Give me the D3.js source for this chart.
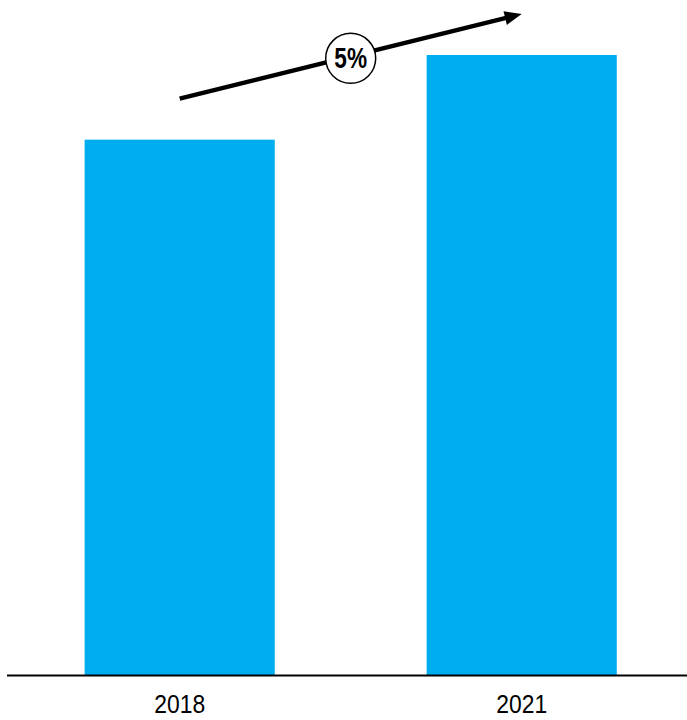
<!DOCTYPE html>
<html>
<head>
<meta charset="utf-8">
<script src="https://cdn.jsdelivr.net/npm/d3@7"></script>
<style>
  html, body { margin: 0; padding: 0; background: #fff; }
  svg { display: block; }
</style>
</head>
<body>
<div id="chart"></div>
<script>
const categories = ["2018", "2021"];
const values = [100, 115.8];
const growthLabel = "5%";

const W = 687, H = 720;
const baseY = 675.5, topY = 55;

const svg = d3.select("#chart").append("svg")
  .attr("width", W).attr("height", H);

const x = d3.scaleBand()
  .domain(categories)
  .range([8, 693.4])
  .paddingInner(0.444)
  .paddingOuter(0.224);

const y = d3.scaleLinear()
  .domain([0, d3.max(values)])
  .range([baseY, topY]);

svg.selectAll("rect.bar")
  .data(categories)
  .join("rect")
  .attr("class", "bar")
  .attr("x", d => x(d))
  .attr("y", (d, i) => y(values[i]))
  .attr("width", x.bandwidth())
  .attr("height", (d, i) => baseY - y(values[i]))
  .attr("fill", "#00AEEF");

// axis
const axis = svg.append("g")
  .attr("transform", `translate(0,${baseY})`)
  .call(d3.axisBottom(x).tickSize(0).tickPadding(0));
axis.select(".domain").remove();
axis.append("line")
  .attr("x1", 7).attr("x2", W)
  .attr("y1", 0).attr("y2", 0)
  .attr("stroke", "#000").attr("stroke-width", 2);
axis.selectAll(".tick text")
  .attr("y", null)
  .attr("dy", null)
  .attr("transform", "translate(0,37) scale(0.88,1)")
  .attr("fill", "#000")
  .style("font-family", "'Liberation Sans', Arial, sans-serif")
  .style("font-size", "26px");

// growth arrow
const offset = 41;
const cx0 = x(categories[0]) + x.bandwidth() / 2;
const cx1 = x(categories[1]) + x.bandwidth() / 2;
const y0 = y(values[0]) - offset;
const y1 = y(values[1]) - offset;
const ang = Math.atan2(y1 - y0, cx1 - cx0);
const headLen = 17, headW = 7;
const bx = cx1 - headLen * Math.cos(ang), by = y1 - headLen * Math.sin(ang);

svg.append("line")
  .attr("x1", cx0).attr("y1", y0)
  .attr("x2", bx + 2 * Math.cos(ang)).attr("y2", by + 2 * Math.sin(ang))
  .attr("stroke", "#000").attr("stroke-width", 4.5);

const px = -Math.sin(ang), py = Math.cos(ang);
svg.append("path")
  .attr("d", `M${cx1},${y1} L${bx + px * headW},${by + py * headW} L${bx - px * headW},${by - py * headW} Z`)
  .attr("fill", "#000");

const mx = (cx0 + cx1) / 2, my = (y0 + y1) / 2 + 2;
svg.append("circle")
  .attr("cx", mx).attr("cy", my).attr("r", 25)
  .attr("fill", "#fff").attr("stroke", "#000").attr("stroke-width", 1.5);

svg.append("text")
  .attr("transform", `translate(${mx},${my + 10}) scale(0.78,1)`)
  .attr("text-anchor", "middle")
  .style("font-family", "'Liberation Sans', Arial, sans-serif")
  .style("font-weight", "bold")
  .style("font-size", "29px")
  .attr("fill", "#000")
  .text(growthLabel);
</script>
</body>
</html>
